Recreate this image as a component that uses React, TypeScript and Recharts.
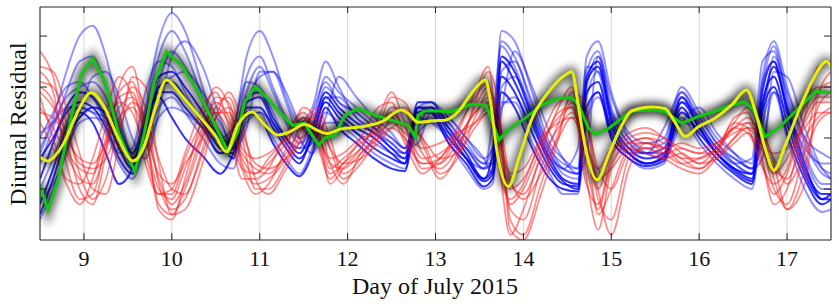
import React from 'react';
import { LineChart, Line, XAxis, YAxis, CartesianGrid } from 'recharts';

// ---------- tick labels / axes ----------
const dayTicks = [9, 10, 11, 12, 13, 14, 15, 16, 17];
const residualTicks = [-1, 0, 1, 2];

// ---------- blue ensemble (shared knot days) ----------
const blueDays = [8.5, 8.65, 8.8, 8.95, 9.1, 9.25, 9.4, 9.55, 9.7, 9.85, 10.0, 10.15, 10.35, 10.55, 10.7, 10.85, 11.0, 11.15, 11.3, 11.45, 11.6, 11.75, 11.9, 12.1, 12.3, 12.5, 12.65, 12.8, 12.95, 13.15, 13.35, 13.55, 13.65, 13.75, 13.9, 14.1, 14.3, 14.45, 14.62, 14.72, 14.85, 15.0, 15.2, 15.4, 15.6, 15.8, 16.0, 16.2, 16.4, 16.6, 16.72, 16.85, 17.0, 17.2, 17.4, 17.5];

const blue1 = [-0.2, 0.4, 1.3, 2.0, 2.2, 1.6, 0.5, -0.3, 0.6, 1.9, 2.45, 2.1, 1.0, 0.0, 0.2, 1.6, 2.1, 1.6, 0.8, 0.3, 0.6, 1.5, 1.0, 0.4, 0.2, 0.0, -0.2, 0.5, 0.6, 0.3, -0.1, -0.5, -0.2, 2.1, 1.9, 0.9, -0.1, -0.4, -0.6, 1.6, 1.9, 0.9, 0.1, -0.1, 0.0, 1.0, 0.5, 0.0, -0.3, -0.5, 1.2, 1.9, 1.0, 0.0, -0.6, -0.7];
const blue2 = [-1.3, -0.6, 0.2, 0.5, 0.3, -0.3, -0.9, -0.6, 0.3, 0.8, 0.4, 0.0, -0.35, -0.7, -0.3, 0.5, 0.4, -0.1, -0.5, -0.75, -0.3, 0.6, 0.2, -0.1, -0.4, -0.6, -0.65, 0.6, 0.5, -0.1, -0.5, -0.95, -0.8, 0.9, 0.6, -0.2, -0.8, -1.0, -1.05, 0.6, 0.9, 0.0, -0.4, -0.55, -0.45, 0.6, 0.0, -0.4, -0.7, -0.9, 0.5, 1.0, 0.1, -0.8, -1.3, -1.2];
const blue3 = [-0.8, -0.1, 0.6, 0.9, 0.8, 0.4, -0.2, -0.6, 0.4, 1.2, 1.3, 1.0, 0.5, -0.1, -0.4, 0.8, 0.9, 0.4, 0.0, -0.3, 0.2, 0.9, 0.6, 0.3, 0.1, -0.2, -0.4, 0.7, 0.7, 0.2, -0.3, -0.8, -0.6, 1.6, 1.3, 0.4, -0.4, -0.8, -0.9, 1.2, 1.5, 0.4, -0.2, -0.4, -0.3, 0.8, 0.2, -0.3, -0.6, -0.8, 0.9, 1.5, 0.5, -0.6, -1.1, -1.1];
const blue4 = [0.0, 0.5, 1.0, 1.1, 0.8, 0.3, -0.3, -0.2, 0.9, 1.5, 1.4, 0.9, 0.3, -0.3, 0.2, 1.1, 1.0, 0.5, 0.0, -0.2, 0.5, 1.1, 0.7, 0.5, 0.2, -0.1, -0.3, 0.4, 0.3, 0.0, -0.4, -0.6, 0.3, 1.8, 1.4, 0.5, -0.3, -0.6, -0.2, 1.4, 1.3, 0.2, -0.3, -0.3, 0.2, 0.9, 0.3, -0.2, -0.5, -0.4, 1.5, 1.7, 0.7, -0.3, -0.9, -0.9];
const blue5 = [-1.6, -1.0, -0.2, 0.3, 0.4, 0.3, 0.0, -0.4, -0.2, 0.4, 0.6, 0.5, 0.2, -0.1, -0.2, 0.3, 0.5, 0.3, 0.0, -0.2, -0.1, 0.3, 0.3, 0.1, -0.1, -0.3, -0.4, 0.1, 0.3, 0.1, -0.2, -0.5, -0.5, 0.6, 0.8, 0.2, -0.4, -0.6, -0.7, 0.3, 0.8, 0.2, -0.2, -0.3, -0.3, 0.3, 0.2, -0.2, -0.4, -0.6, -0.1, 0.9, 0.5, -0.2, -0.5, -0.5];
const blue6 = [-1.2, -0.9, -0.3, 0.5, 1.2, 1.3, 0.8, 0.0, -0.4, 0.5, 1.6, 1.9, 1.4, 0.4, -0.2, 0.2, 1.3, 1.3, 0.7, 0.0, -0.3, 0.4, 1.2, 0.8, 0.4, 0.1, -0.2, -0.1, 0.5, 0.4, 0.0, -0.4, -0.7, 0.5, 1.7, 1.0, 0.1, -0.4, -0.7, -0.3, 1.6, 0.8, 0.0, -0.3, -0.4, 0.3, 0.6, 0.1, -0.3, -0.6, -0.4, 1.3, 1.2, 0.2, -0.6, -0.8];
const blue7 = [-0.4, 0.0, 0.5, 0.7, 0.6, 0.2, -0.4, -0.7, 0.2, 0.9, 0.9, 0.6, 0.2, -0.3, -0.2, 0.6, 0.6, 0.2, -0.2, -0.5, 0.1, 0.7, 0.4, 0.1, -0.2, -0.4, -0.5, 0.5, 0.5, 0.0, -0.4, -0.8, -0.3, 1.2, 0.9, 0.1, -0.6, -0.9, -0.95, 0.9, 1.1, 0.1, -0.3, -0.5, -0.4, 0.5, 0.1, -0.3, -0.6, -0.7, 0.7, 1.2, 0.3, -0.7, -1.2, -1.1];
const blue8 = [-0.5, 0.2, 0.9, 1.5, 1.6, 1.0, 0.3, -0.3, 0.5, 1.6, 2.1, 1.7, 0.8, 0.0, -0.1, 1.2, 1.6, 1.0, 0.4, 0.0, 0.3, 1.2, 0.9, 0.6, 0.3, 0.0, -0.2, 0.6, 0.7, 0.4, 0.0, -0.4, -0.2, 1.9, 1.6, 0.7, -0.2, -0.5, -0.6, 1.3, 1.7, 0.6, 0.0, -0.2, -0.1, 0.9, 0.4, -0.1, -0.4, -0.6, 1.0, 1.8, 0.8, -0.1, -0.7, -0.8];
const blue9 = [-1.0, -0.4, 0.3, 0.6, 0.5, 0.1, -0.5, -0.8, -0.1, 0.6, 0.8, 0.5, 0.0, -0.5, -0.6, 0.4, 0.5, 0.0, -0.4, -0.7, -0.2, 0.5, 0.3, 0.0, -0.3, -0.5, -0.6, 0.3, 0.4, -0.1, -0.6, -1.0, -0.9, 0.7, 0.7, -0.1, -0.7, -1.1, -1.1, 0.4, 0.9, 0.0, -0.4, -0.6, -0.5, 0.4, -0.1, -0.5, -0.8, -1.0, 0.3, 0.9, 0.0, -1.0, -1.45, -1.4];
const blue10 = [0.1, 0.3, 0.6, 0.6, 0.5, 0.4, 0.1, -0.3, 0.3, 1.0, 1.2, 1.3, 0.9, 0.3, -0.1, 0.7, 1.2, 1.3, 0.9, 0.3, 0.0, 0.8, 0.8, 0.4, 0.1, -0.1, -0.3, 0.2, 0.6, 0.3, -0.2, -0.6, -0.4, 1.0, 1.2, 0.5, -0.3, -0.7, -0.8, 0.8, 1.3, 0.5, -0.1, -0.3, -0.2, 0.7, 0.4, -0.1, -0.5, -0.7, 0.2, 1.6, 0.9, 0.0, -0.3, -0.4];
const blue11 = [-1.5, -0.8, 0.0, 0.4, 0.6, 0.5, 0.1, -0.5, 0.1, 1.0, 1.1, 0.8, 0.3, -0.2, -0.3, 0.7, 0.8, 0.3, -0.1, -0.4, 0.0, 0.8, 0.5, 0.2, 0.0, -0.3, -0.5, 0.6, 0.6, 0.1, -0.4, -0.85, -0.7, 1.5, 1.1, 0.3, -0.5, -0.85, -1.0, 1.1, 1.4, 0.3, -0.3, -0.5, -0.35, 0.7, 0.2, -0.3, -0.65, -0.85, 0.6, 1.4, 0.6, -0.5, -1.2, -1.2];
const blue12 = [-0.3, 0.3, 0.8, 1.0, 1.1, 0.8, 0.2, -0.4, 0.2, 1.1, 1.7, 1.4, 0.7, 0.1, -0.2, 0.9, 1.4, 0.9, 0.3, -0.1, 0.2, 1.0, 0.7, 0.5, 0.2, -0.2, -0.3, 0.5, 0.5, 0.2, -0.2, -0.6, -0.5, 1.3, 1.5, 0.6, -0.2, -0.6, -0.7, 1.0, 1.6, 0.5, -0.1, -0.3, -0.2, 0.8, 0.3, -0.2, -0.5, -0.7, 1.1, 1.5, 0.6, -0.4, -1.0, -1.0];

// ---------- red ensemble (shared knot days) ----------
const redDays = [8.5, 8.65, 8.8, 8.95, 9.1, 9.25, 9.4, 9.55, 9.7, 9.85, 10.0, 10.15, 10.35, 10.5, 10.65, 10.8, 10.95, 11.1, 11.3, 11.5, 11.65, 11.8, 11.95, 12.15, 12.35, 12.5, 12.65, 12.85, 13.05, 13.25, 13.45, 13.6, 13.72, 13.85, 14.0, 14.2, 14.4, 14.55, 14.7, 14.85, 15.0, 15.2, 15.4, 15.6, 15.8, 16.0, 16.2, 16.4, 16.55, 16.7, 16.85, 17.0, 17.2, 17.35, 17.5];

const red1 = [1.7, 1.2, 0.0, -1.0, -1.3, -0.3, 1.0, 1.4, 0.2, -1.4, -1.6, -0.8, 0.4, 1.0, 0.6, -0.6, -1.1, -0.9, -0.2, 0.6, 0.3, -0.9, -0.6, -0.2, 0.4, 0.9, 0.3, -0.6, -0.5, 0.1, 0.9, 1.4, -0.4, -1.9, -1.4, -0.3, 0.6, 1.0, -0.6, -1.8, -0.6, -0.1, 0.0, -0.2, -0.4, -0.6, -0.3, 0.4, 0.5, -0.3, -1.3, -1.0, 0.4, 1.4, 1.5];
const red2 = [1.0, 0.7, -0.2, -0.6, -0.7, 0.0, 0.8, 0.9, 0.0, -1.0, -1.2, -0.6, 0.2, 0.7, 0.4, -0.4, -0.7, -0.5, -0.1, 0.4, 0.2, -0.6, -0.4, -0.1, 0.2, 0.5, 0.2, -0.4, -0.3, 0.0, 0.5, 0.8, -0.1, -1.0, -0.8, -0.1, 0.4, 0.6, -0.2, -1.0, -0.3, 0.0, 0.1, 0.0, -0.2, -0.3, -0.1, 0.2, 0.3, -0.1, -0.7, -0.4, 0.3, 0.7, 0.7];
const red3 = [1.3, 0.9, -0.5, -1.2, -1.1, -0.1, 0.9, 1.1, 0.1, -1.3, -1.5, -1.0, 0.0, 0.8, 0.7, -0.5, -0.9, -0.8, -0.4, 0.3, 0.4, -0.5, -0.9, -0.3, 0.1, 0.6, 0.5, -0.3, -0.6, -0.2, 0.6, 1.0, 0.2, -1.4, -1.6, -0.6, 0.3, 0.8, 0.2, -1.5, -1.0, -0.2, -0.1, -0.3, -0.5, -0.4, -0.2, 0.2, 0.4, 0.0, -1.0, -1.3, -0.2, 0.9, 1.1];
const red4 = [0.5, 0.4, 0.0, -0.4, -0.5, -0.1, 0.4, 0.6, 0.1, -0.7, -0.9, -0.5, 0.0, 0.5, 0.5, -0.2, -0.4, -0.3, 0.0, 0.3, 0.1, -0.4, -0.3, 0.0, 0.1, 0.3, 0.1, -0.2, -0.1, 0.1, 0.3, 0.5, 0.0, -0.7, -0.6, 0.0, 0.3, 0.4, -0.1, -0.6, -0.2, -0.1, -0.1, -0.2, -0.1, -0.2, -0.1, 0.1, 0.2, -0.1, -0.3, -0.2, 0.2, 0.5, 0.5];
const red5 = [0.8, 0.0, -0.8, -0.9, -0.4, 0.5, 1.2, 0.8, -0.5, -1.1, -1.0, -0.3, 0.6, 0.9, 0.2, -0.8, -0.8, -0.6, 0.1, 0.5, 0.0, -0.7, -0.5, 0.0, 0.6, 0.7, 0.0, -0.5, -0.4, 0.2, 0.8, 1.1, -0.6, -1.2, -0.9, 0.0, 0.7, 0.8, -0.8, -1.3, -0.4, 0.1, 0.2, 0.0, -0.3, -0.5, -0.2, 0.3, 0.2, -0.5, -0.9, -0.6, 0.6, 1.0, 1.0];
const red6 = [1.1, 1.0, 0.3, -0.7, -1.2, -0.8, 0.3, 1.0, 0.6, -0.9, -1.4, -1.2, -0.2, 0.6, 0.8, 0.0, -1.0, -1.0, -0.5, 0.2, 0.5, -0.2, -0.8, -0.5, 0.0, 0.4, 0.6, 0.0, -0.7, -0.4, 0.4, 0.9, 0.5, -1.6, -1.9, -0.9, 0.1, 0.7, 0.5, -1.2, -1.6, -0.4, -0.2, -0.4, -0.6, -0.7, -0.4, 0.0, 0.3, 0.2, -0.8, -1.4, -0.6, 0.6, 0.9];
const red7 = [0.6, 0.2, -0.3, -0.8, -0.9, -0.2, 0.6, 0.8, 0.2, -0.8, -1.3, -0.9, 0.1, 0.6, 0.3, -0.3, -0.6, -0.7, -0.3, 0.2, 0.1, -0.5, -0.6, -0.3, 0.0, 0.2, 0.0, -0.5, -0.5, -0.1, 0.3, 0.6, 0.1, -0.9, -1.1, -0.4, 0.2, 0.5, 0.0, -0.8, -0.6, -0.2, -0.3, -0.4, -0.3, -0.5, -0.4, -0.1, 0.1, -0.2, -0.6, -0.8, 0.0, 0.4, 0.6];
const red8 = [1.4, 1.3, 0.6, -0.3, -1.0, -1.1, -0.1, 1.2, 1.0, -0.5, -1.5, -1.4, -0.5, 0.4, 0.9, 0.3, -0.8, -1.1, -0.6, 0.1, 0.6, 0.0, -0.7, -0.4, 0.2, 0.8, 0.7, -0.1, -0.8, -0.3, 0.7, 1.3, 0.6, -1.8, -2.0, -1.1, 0.0, 0.9, 0.7, -1.0, -1.9, -0.6, -0.1, -0.2, -0.5, -0.6, -0.3, 0.3, 0.6, 0.3, -0.5, -1.4, -0.9, 0.8, 1.3];
const red9 = [0.3, -0.2, -0.9, -1.3, -0.8, 0.2, 0.7, 0.5, -0.3, -1.1, -1.1, -0.4, 0.3, 0.5, 0.1, -0.6, -0.7, -0.4, 0.0, 0.4, -0.1, -0.8, -0.5, -0.2, 0.3, 0.4, -0.1, -0.7, -0.4, 0.0, 0.5, 0.7, -0.3, -1.3, -1.0, -0.2, 0.5, 0.6, -0.4, -1.4, -0.5, -0.1, 0.0, -0.1, -0.4, -0.4, -0.2, 0.2, 0.1, -0.4, -1.1, -0.7, 0.4, 0.8, 0.8];
const red10 = [0.9, 0.6, 0.1, -0.5, -0.6, -0.4, 0.2, 0.7, 0.4, -0.4, -1.0, -1.1, -0.3, 0.4, 0.6, 0.1, -0.5, -0.6, -0.4, 0.0, 0.3, -0.2, -0.5, -0.4, -0.1, 0.2, 0.3, 0.0, -0.4, -0.3, 0.2, 0.5, 0.3, -0.8, -1.2, -0.7, 0.0, 0.4, 0.3, -0.6, -1.0, -0.3, -0.2, -0.3, -0.2, -0.3, -0.3, 0.0, 0.2, 0.1, -0.4, -0.9, -0.3, 0.3, 0.5];

// ---------- green series ----------
const greenDays = [8.5, 8.59, 8.7, 8.86, 8.97, 9.1, 9.24, 9.39, 9.58, 9.69, 9.8, 9.94, 10.11, 10.3, 10.49, 10.64, 10.75, 10.83, 10.95, 11.1, 11.29, 11.38, 11.51, 11.67, 11.74, 11.86, 11.97, 12.12, 12.31, 12.5, 12.69, 12.77, 12.8, 12.88, 12.99, 13.19, 13.41, 13.57, 13.62, 13.72, 13.83, 14.02, 14.21, 14.4, 14.55, 14.63, 14.74, 14.82, 14.97, 15.12, 15.23, 15.46, 15.61, 15.8, 15.99, 16.22, 16.37, 16.52, 16.62, 16.75, 16.9, 17.13, 17.32, 17.47, 17.5];
const greenValues = [-0.92, -1.41, -0.86, 0.45, 1.24, 1.56, 1.1, 0.12, -0.66, 0.12, 1.1, 1.69, 1.43, 0.91, 0.25, -0.27, 0.12, 0.71, 1.01, 0.75, 0.39, 0.25, 0.29, -0.14, 0.0, 0.06, 0.45, 0.58, 0.45, 0.35, 0.25, 0.01, 0.45, 0.53, 0.53, 0.52, 0.66, 0.65, 0.45, -0.04, 0.16, 0.39, 0.65, 0.78, 0.79, 0.65, 0.19, 0.07, 0.19, 0.39, 0.53, 0.55, 0.52, 0.29, 0.42, 0.55, 0.65, 0.71, 0.55, 0.03, 0.19, 0.58, 0.91, 0.9, 0.9];

// ---------- yellow series ----------
const yellowDays = [8.5, 8.59, 8.68, 8.78, 8.93, 9.08, 9.24, 9.39, 9.56, 9.69, 9.8, 9.94, 10.11, 10.3, 10.49, 10.62, 10.75, 10.91, 11.06, 11.21, 11.34, 11.51, 11.67, 11.76, 11.93, 12.16, 12.39, 12.61, 12.69, 12.8, 12.99, 13.11, 13.26, 13.41, 13.57, 13.62, 13.7, 13.83, 13.95, 14.1, 14.29, 14.48, 14.55, 14.63, 14.7, 14.84, 14.97, 15.12, 15.23, 15.46, 15.61, 15.72, 15.84, 15.99, 16.18, 16.37, 16.54, 16.64, 16.75, 16.85, 16.98, 17.13, 17.28, 17.45, 17.5];
const yellowValues = [-0.37, -0.45, -0.33, -0.07, 0.52, 0.89, 0.58, 0.0, -0.45, -0.14, 0.52, 1.14, 0.84, 0.45, 0.06, -0.27, 0.25, 0.51, 0.25, 0.06, 0.12, 0.27, 0.14, 0.09, 0.18, 0.22, 0.32, 0.55, 0.48, 0.31, 0.34, 0.35, 0.52, 0.88, 1.14, 0.78, -0.27, -0.95, -0.39, 0.39, 0.91, 1.24, 1.3, 0.58, -0.14, -0.82, -0.33, 0.25, 0.53, 0.61, 0.58, 0.32, 0.03, 0.22, 0.39, 0.65, 0.94, 0.52, -0.2, -0.63, -0.14, 0.52, 1.1, 1.5, 1.4];

const toPoints = (days: number[], vals: number[]) => days.map((d, i) => ({ x: d, v: vals[i] }));

const blueSeries = [
  { vals: blue1, strong: false },
  { vals: blue2, strong: true },
  { vals: blue3, strong: true },
  { vals: blue4, strong: false },
  { vals: blue5, strong: false },
  { vals: blue6, strong: false },
  { vals: blue7, strong: true },
  { vals: blue8, strong: false },
  { vals: blue9, strong: false },
  { vals: blue10, strong: false },
  { vals: blue11, strong: true },
  { vals: blue12, strong: false },
];
const redSeries = [red1, red2, red3, red4, red5, red6, red7, red8, red9, red10];

const FONT = "'Liberation Serif', 'Times New Roman', Times, serif";

const BottomTick = (p: any) => (
  <g>
    <line x1={p.x} x2={p.x} y1={p.y} y2={p.y - 7} stroke="#222" strokeWidth={1} />
    <text x={p.x} y={p.y + 26} textAnchor="middle" fontSize={22} fontFamily={FONT} fill="#111">
      {p.payload.value}
    </text>
  </g>
);
const TopTick = (p: any) => (
  <line x1={p.x} x2={p.x} y1={p.y} y2={p.y + 6} stroke="#222" strokeWidth={1} />
);
const LeftTick = (p: any) => (
  <line x1={p.x} x2={p.x + 7} y1={p.y} y2={p.y} stroke="#222" strokeWidth={1} />
);
const RightTick = (p: any) => (
  <line x1={p.x} x2={p.x - 7} y1={p.y} y2={p.y} stroke="#222" strokeWidth={1} />
);

export default function App() {
  return (
    <div style={{ position: 'absolute', left: 0, top: 0, background: '#fff' }}>
      <LineChart width={839} height={307} margin={{ top: 0, right: 0, bottom: 0, left: 0 }}>
        <defs>
          <filter id="glow" x="-5%" y="-25%" width="110%" height="150%">
            <feGaussianBlur stdDeviation="4.5" />
          </filter>
        </defs>
        <CartesianGrid horizontal={false} vertical={true} stroke="#d6d6d6" strokeWidth={1} />
        <XAxis
          xAxisId="top"
          orientation="top"
          type="number"
          dataKey="x"
          domain={[8.5, 17.5]}
          ticks={dayTicks}
          allowDataOverflow
          height={7}
          tickSize={0}
          tickMargin={0}
          tickLine={false}
          tick={<TopTick />}
          axisLine={{ stroke: '#222', strokeWidth: 1 }}
        />
        <XAxis
          type="number"
          dataKey="x"
          domain={[8.5, 17.5]}
          ticks={dayTicks}
          allowDataOverflow
          height={67}
          tickSize={0}
          tickMargin={0}
          tickLine={false}
          tick={<BottomTick />}
          axisLine={{ stroke: '#222', strokeWidth: 1 }}
        />
        <YAxis
          type="number"
          domain={[-2, 2.57]}
          ticks={residualTicks}
          allowDataOverflow
          width={40}
          tickSize={0}
          tickMargin={0}
          tickLine={false}
          tick={<LeftTick />}
          axisLine={{ stroke: '#222', strokeWidth: 1 }}
        />
        <YAxis
          yAxisId="right"
          orientation="right"
          type="number"
          domain={[-2, 2.57]}
          ticks={residualTicks}
          allowDataOverflow
          width={8}
          tickSize={0}
          tickMargin={0}
          tickLine={false}
          tick={<RightTick />}
          axisLine={{ stroke: '#222', strokeWidth: 1 }}
        />

        {blueSeries.map((s, i) => (
          <Line
            key={'b' + i}
            data={toPoints(blueDays, s.vals)}
            dataKey="v"
            type="monotone"
            dot={false}
            activeDot={false}
            isAnimationActive={false}
            stroke="#0000ff"
            strokeOpacity={s.strong ? 0.8 : 0.42}
            strokeWidth={2}
          />
        ))}
        {redSeries.map((vals, i) => (
          <Line
            key={'r' + i}
            data={toPoints(redDays, vals)}
            dataKey="v"
            type="monotone"
            dot={false}
            activeDot={false}
            isAnimationActive={false}
            stroke="#ff1a1a"
            strokeOpacity={0.5}
            strokeWidth={1.7}
          />
        ))}

        <Line
          data={toPoints(greenDays, greenValues)}
          dataKey="v"
          type="linear"
          dot={false}
          activeDot={false}
          isAnimationActive={false}
          stroke="#000"
          strokeOpacity={0.6}
          strokeWidth={10}
          filter="url(#glow)"
        />
        <Line
          data={toPoints(yellowDays, yellowValues)}
          dataKey="v"
          type="monotone"
          dot={false}
          activeDot={false}
          isAnimationActive={false}
          stroke="#000"
          strokeOpacity={0.6}
          strokeWidth={10}
          filter="url(#glow)"
        />
        <Line
          data={toPoints(greenDays, greenValues)}
          dataKey="v"
          type="linear"
          dot={false}
          activeDot={false}
          isAnimationActive={false}
          stroke="#10c810"
          strokeWidth={3}
        />
        <Line
          data={toPoints(yellowDays, yellowValues)}
          dataKey="v"
          type="monotone"
          dot={false}
          activeDot={false}
          isAnimationActive={false}
          stroke="#e4f00a"
          strokeWidth={3}
        />

        <text x={435} y={294} textAnchor="middle" fontSize={24} fontFamily={FONT} fill="#111">
          Day of July 2015
        </text>
        <text
          transform="rotate(-90)"
          x={-124}
          y={26}
          textAnchor="middle"
          fontSize={24}
          fontFamily={FONT}
          fill="#111"
        >
          Diurnal Residual
        </text>
      </LineChart>
    </div>
  );
}
